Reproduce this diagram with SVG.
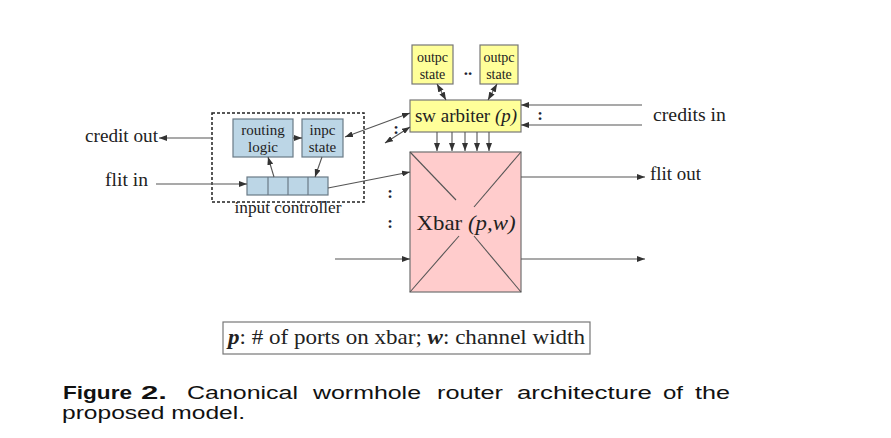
<svg xmlns="http://www.w3.org/2000/svg" width="891" height="438" viewBox="0 0 891 438">
<defs>
<marker id="ah" viewBox="0 0 8 6" refX="8" refY="3" markerWidth="8" markerHeight="6" orient="auto-start-reverse" markerUnits="userSpaceOnUse">
<path d="M0,0 L8,3 L0,6 z" fill="#333"/>
</marker>
<style>
.t{font-family:"Liberation Serif","Times New Roman",serif;fill:#222}
.c{font-family:"Liberation Sans",Arial,sans-serif;fill:#111;font-size:17.5px}
.b{font-weight:bold}
.yel{fill:#ffff99;stroke:#777;stroke-width:1.2}
.blu{fill:#bcd6e6;stroke:#6a7a86;stroke-width:1.2}
.pnk{fill:#ffcccc;stroke:#707070;stroke-width:1.2}
.ln{stroke:#555;stroke-width:1.1;fill:none}
.a{marker-end:url(#ah)}
.aa{marker-start:url(#ah);marker-end:url(#ah)}
.dot{font-family:"Liberation Serif",serif;font-weight:bold;fill:#223;font-size:17px}
</style>
</defs>
<rect width="891" height="438" fill="#fff"/>

<g id="input-controller">
<rect x="212" y="113" width="152" height="89" fill="none" stroke="#222" stroke-width="1.5" stroke-dasharray="3,2"/>
<text class="t" x="288" y="213" font-size="17" text-anchor="middle" textLength="107" lengthAdjust="spacingAndGlyphs">input controller</text>
</g>
<g id="routing-logic">
<rect class="blu" x="233" y="119" width="60" height="38"/>
<text class="t" x="263" y="135" font-size="15" text-anchor="middle">routing</text>
<text class="t" x="263" y="152" font-size="15" text-anchor="middle">logic</text>
</g>
<g id="inpc-state">
<rect class="blu" x="302" y="119" width="41" height="38"/>
<text class="t" x="322.5" y="135" font-size="15" text-anchor="middle">inpc</text>
<text class="t" x="322.5" y="152" font-size="15" text-anchor="middle">state</text>
</g>
<g id="buffer">
<rect class="blu" x="247" y="177" width="81" height="18"/>
<line x1="268" y1="177" x2="268" y2="195" stroke="#6a7a86" stroke-width="1.2"/>
<line x1="288" y1="177" x2="288" y2="195" stroke="#6a7a86" stroke-width="1.2"/>
<line x1="308" y1="177" x2="308" y2="195" stroke="#6a7a86" stroke-width="1.2"/>
</g>
<g id="outpc-state-1">
<rect class="yel" x="412" y="45" width="41" height="39"/>
<text class="t" x="432.5" y="62" font-size="14" text-anchor="middle">outpc</text>
<text class="t" x="432.5" y="79" font-size="14" text-anchor="middle">state</text>
</g>
<g id="outpc-state-2">
<rect class="yel" x="480" y="45" width="38" height="39"/>
<text class="t" x="499" y="62" font-size="14" text-anchor="middle">outpc</text>
<text class="t" x="499" y="79" font-size="14" text-anchor="middle">state</text>
</g>
<g id="sw-arbiter">
<rect class="yel" x="410" y="100" width="111" height="32"/>
<text class="t" x="466" y="122" font-size="19" text-anchor="middle" textLength="102" lengthAdjust="spacingAndGlyphs">sw arbiter <tspan font-style="italic">(p)</tspan></text>
</g>
<g id="xbar">
<rect class="pnk" x="410" y="152" width="111" height="140"/>
<g class="ln" stroke="#666">
<line x1="410" y1="152" x2="456" y2="200"/>
<line x1="521" y1="152" x2="474" y2="207"/>
<line x1="410" y1="292" x2="459" y2="236"/>
<line x1="521" y1="292" x2="474" y2="236"/>
</g>
<text class="t" x="466" y="230" font-size="22" text-anchor="middle" textLength="99" lengthAdjust="spacingAndGlyphs">Xbar <tspan font-style="italic">(p,w)</tspan></text>
</g>

<g id="connectors" class="ln">
<line class="a" x1="212" y1="138" x2="159" y2="138"/>
<line class="a" x1="156" y1="184" x2="247" y2="184"/>
<line class="a" x1="293" y1="138" x2="302" y2="138"/>
<line class="a" x1="274" y1="177" x2="268" y2="157"/>
<line class="a" x1="322" y1="157" x2="315" y2="177"/>
<line class="a" x1="328" y1="188" x2="410" y2="172"/>
<line class="aa" x1="345" y1="137" x2="410" y2="113"/>
<line class="aa" x1="385" y1="143" x2="410" y2="127"/>
<line class="aa" x1="437" y1="84" x2="446" y2="100"/>
<line class="aa" x1="497" y1="84" x2="488" y2="100"/>
<line class="a" x1="642" y1="105" x2="521" y2="105"/>
<line class="a" x1="642" y1="125" x2="521" y2="125"/>
<line class="a" x1="437" y1="132" x2="437" y2="151"/>
<line class="a" x1="452" y1="132" x2="452" y2="151"/>
<line class="a" x1="465" y1="132" x2="465" y2="151"/>
<line class="a" x1="477" y1="132" x2="477" y2="151"/>
<line class="a" x1="489" y1="132" x2="489" y2="151"/>
<line class="a" x1="521" y1="177" x2="645" y2="177"/>
<line class="a" x1="521" y1="259" x2="645" y2="259"/>
<line class="a" x1="335" y1="259" x2="410" y2="259"/>
</g>

<g id="labels">
<text class="t" x="85" y="142" font-size="18" textLength="73" lengthAdjust="spacingAndGlyphs">credit out</text>
<text class="t" x="105" y="186" font-size="18" textLength="43" lengthAdjust="spacingAndGlyphs">flit in</text>
<text class="t" x="653" y="121" font-size="18" textLength="73" lengthAdjust="spacingAndGlyphs">credits in</text>
<text class="t" x="650" y="180" font-size="18" textLength="51" lengthAdjust="spacingAndGlyphs">flit out</text>
<text class="dot" x="468" y="75" text-anchor="middle">..</text>
<text class="dot" x="396" y="134" text-anchor="middle">:</text>
<text class="dot" x="540" y="120" text-anchor="middle">:</text>
<text class="dot" x="390" y="198" text-anchor="middle">:</text>
<text class="dot" x="390" y="228" text-anchor="middle">:</text>
</g>

<g id="legend">
<rect x="223" y="322" width="367" height="32" fill="#fff" stroke="#777" stroke-width="1.2"/>
<text class="t" x="228" y="344" font-size="22" textLength="357" lengthAdjust="spacingAndGlyphs"><tspan font-weight="bold" font-style="italic">p</tspan>: # of ports on xbar; <tspan font-weight="bold" font-style="italic">w</tspan>: channel width</text>
</g>

<g id="caption">
<text class="c b" x="63" y="399" textLength="69" lengthAdjust="spacingAndGlyphs">Figure</text>
<text class="c b" x="141" y="399" textLength="26" lengthAdjust="spacingAndGlyphs">2.</text>
<text class="c" x="187" y="399" textLength="111" lengthAdjust="spacingAndGlyphs">Canonical</text>
<text class="c" x="313" y="399" textLength="108" lengthAdjust="spacingAndGlyphs">wormhole</text>
<text class="c" x="437" y="399" textLength="66" lengthAdjust="spacingAndGlyphs">router</text>
<text class="c" x="517" y="399" textLength="135" lengthAdjust="spacingAndGlyphs">architecture</text>
<text class="c" x="663" y="399" textLength="20" lengthAdjust="spacingAndGlyphs">of</text>
<text class="c" x="695" y="399" textLength="35" lengthAdjust="spacingAndGlyphs">the</text>
<text class="c" x="62" y="419" textLength="183" lengthAdjust="spacingAndGlyphs">proposed model.</text>
</g>
</svg>
